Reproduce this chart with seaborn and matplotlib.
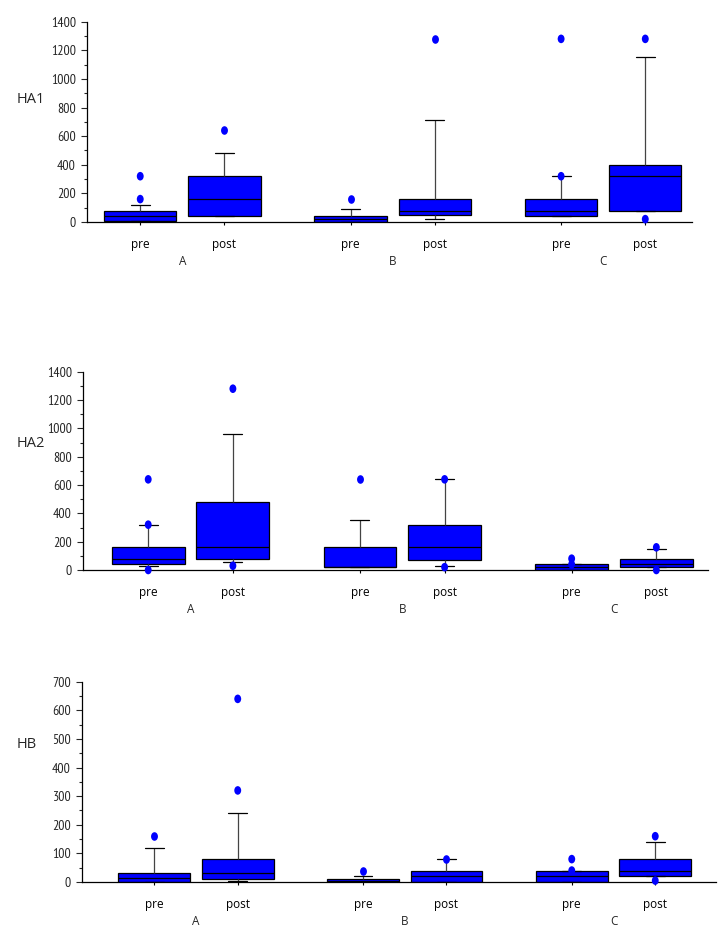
import numpy as np
import pandas as pd
import matplotlib
matplotlib.use('Agg')
import matplotlib.pyplot as plt
from matplotlib.path import Path
from matplotlib.transforms import Affine2D
from matplotlib.ticker import MultipleLocator
import seaborn as sns

groups = ['A', 'B', 'C']
phases = ['pre', 'post']

# box order: A pre, A post, B pre, B post, C pre, C post
ha1_low = [5, 40, 0, 20, 40, 80]
ha1_q1 = [5, 40, 0, 50, 40, 80]
ha1_med = [40, 160, 20, 80, 80, 320]
ha1_q3 = [80, 320, 40, 160, 160, 400]
ha1_high = [120, 480, 90, 710, 320, 1150]
ha1_out = [[160, 320], [640], [160], [1280], [320, 1280], [20, 1280]]

ha2_low = [30, 60, 20, 30, 0, 20]
ha2_q1 = [40, 80, 20, 70, 0, 20]
ha2_med = [80, 160, 20, 160, 20, 40]
ha2_q3 = [160, 480, 160, 320, 40, 80]
ha2_high = [320, 960, 350, 640, 40, 150]
ha2_out = [[0, 320, 640], [30, 1280], [640], [20, 640], [40, 80], [0, 160]]

hb_low = [0, 5, 0, 0, 0, 20]
hb_q1 = [0, 10, 0, 0, 0, 20]
hb_med = [15, 30, 5, 20, 20, 40]
hb_q3 = [30, 80, 10, 40, 40, 80]
hb_high = [120, 240, 20, 80, 40, 140]
hb_out = [[160], [320, 640], [40], [80], [40, 80], [5, 160]]

BLUE = '#0000ff'
NARROW = ['PT Sans Narrow', 'DejaVu Sans']
SANS = ['Open Sans', 'DejaVu Sans']

sns.set_style('ticks')


def box_frame(low, q1, med, q3, high):
    # five numbers per box; whis=(0, 100) makes seaborn draw exactly these
    rows = []
    k = 0
    for g in groups:
        for p in phases:
            for v in (low[k], q1[k], med[k], q3[k], high[k]):
                rows.append({'group': g, 'phase': p, 'value': v})
            k += 1
    return pd.DataFrame(rows)


def out_frame(outs):
    rows = []
    k = 0
    for g in groups:
        for p in phases:
            for v in outs[k]:
                rows.append({'group': g, 'phase': p, 'value': v})
            k += 1
    return pd.DataFrame(rows)


# slightly tall dot, like the original markers
dot = Path.unit_circle().transformed(Affine2D().scale(0.8, 1.0))

panels = [
    ('HA1', box_frame(ha1_low, ha1_q1, ha1_med, ha1_q3, ha1_high), out_frame(ha1_out),
     [87 / 724, 1 - 222 / 938, 605 / 724, 200.3 / 938], (-0.453, 2.422), 1400, 200, 100, -0.116, 0.61),
    ('HA2', box_frame(ha2_low, ha2_q1, ha2_med, ha2_q3, ha2_high), out_frame(ha2_out),
     [83 / 724, 1 - 570 / 938, 625 / 724, 198.3 / 938], (-0.508, 2.444), 1400, 200, 100, -0.106, 0.64),
    ('HB', box_frame(hb_low, hb_q1, hb_med, hb_q3, hb_high), out_frame(hb_out),
     [82 / 724, 1 - 882 / 938, 634 / 724, 200.3 / 938], (-0.546, 2.491), 700, 100, 50, -0.1025, 0.685),
]

fig = plt.figure(figsize=(7.24, 9.38), dpi=100)
pal = {'pre': BLUE, 'post': BLUE}
dodge = 0.8 / 4

for name, boxes, outs, rect, xlim, ytop, major, minor, lx, ly in panels:
    ax = fig.add_axes(rect)
    sns.boxplot(data=boxes, x='group', y='value', hue='phase', order=groups,
                hue_order=phases, palette=pal, saturation=1, whis=(0, 100),
                width=0.8, gap=0.14, linecolor='black', linewidth=0.9,
                showfliers=False, legend=False, ax=ax,
                whiskerprops={'color': '#444444'}, capwidths=0.09)
    sns.stripplot(data=outs, x='group', y='value', hue='phase', order=groups,
                  hue_order=phases, palette=pal, dodge=True, jitter=False,
                  marker=dot, size=6.2, linewidth=0, legend=False, ax=ax,
                  clip_on=False, zorder=4)

    ax.set_xlim(*xlim)
    ax.set_ylim(0, ytop)
    ax.yaxis.set_major_locator(MultipleLocator(major))
    ax.yaxis.set_minor_locator(MultipleLocator(minor))

    pos = [i + s * dodge for i in range(len(groups)) for s in (-1, 1)]
    ax.set_xticks(pos, phases * len(groups))
    ax.set_xticks(range(len(groups)), groups, minor=True)
    ax.tick_params(axis='x', which='major', length=2.5, width=0.8, pad=9,
                   labelsize=8.5, colors='black')
    ax.tick_params(axis='x', which='minor', length=0, pad=24, labelsize=8.5)
    ax.tick_params(axis='y', which='major', length=4, width=0.8, pad=4,
                   labelsize=10)
    ax.tick_params(axis='y', which='minor', length=2.5, width=0.8)
    for lab in ax.get_xticklabels(which='both'):
        lab.set_family(SANS)
    for lab in ax.get_yticklabels():
        lab.set_family(NARROW)

    ax.set_xlabel('')
    ax.set_ylabel('')
    ax.text(lx, ly, name, transform=ax.transAxes, ha='left', va='center',
            fontsize=10.5, family=SANS)
    sns.despine(ax=ax)
    for sp in ('left', 'bottom'):
        ax.spines[sp].set_color('black')
        ax.spines[sp].set_linewidth(0.9)

fig.savefig('out.png', dpi=100)
